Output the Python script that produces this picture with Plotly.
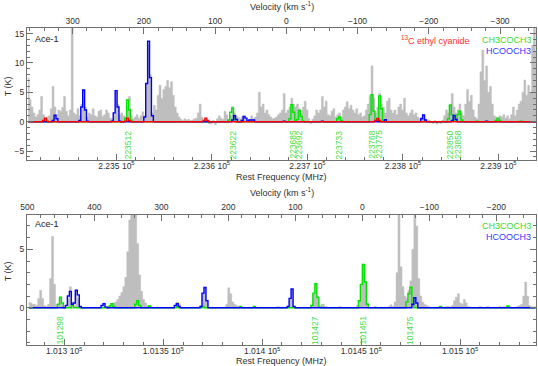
import numpy as np
import plotly.graph_objects as go

C_KMS = 299792.458

# ---------------- upper band (~223.7 GHz) ----------------
top_f0 = 223407.6        # MHz, first channel
top_df = 2.0             # MHz, channel width
top_vref = 223677.8      # MHz, rest frequency at v = 0
top_xrange = [223406.3, 223939.3]
top_yrange = [-6.44, 15.96]

# observed spectrum, T (K) per channel
top_obs = [
    7.5, 3.8, 2.5, 1.5, 0.8, 1.2, 2.0, 4.3, 1.2, 0.6,
    0.8, 1.0, 2.2, 6.0, 2.5, 1.2, 2.0, 1.8, 2.4, 4.3,
    1.8, 1.0, 2.0, 20.0, 1.5, 1.2, 2.2, 1.0, 3.0, 5.3,
    2.5, 0.8, 1.5, 1.2, 2.2, 1.0, 0.8, 1.8, 2.0, 0.9,
    1.2, 2.0, 1.5, 0.6, 0.5, 1.5, 5.2, 3.0, 1.2, 1.5,
    1.0, 0.8, 2.5, 4.3, 1.0, 0.5, 0.8, 1.2, 0.6, 1.0,
    1.7, 1.0, 6.5, 13.2, 8.0, 1.5, 2.8, 2.0, 4.5, 6.2,
    4.0, 5.5, 6.0, 7.0, 5.8, 6.8, 4.5, 2.5, 1.5, 0.8,
    0.4, 0.2, 0.5, 0.3, 0.4, 0.2, 0.3, 0.5, 0.6, 1.5,
    3.0, 0.8, 0.4, 0.6, 0.2, -0.4, -0.3, 0.2, -0.5, 0.5,
    1.0, 0.6, 0.4, 1.8, 1.2, 0.3, 1.0, 2.6, 1.5, 1.0,
    0.7, 0.5, 0.8, 1.0, 0.5, 0.3, 0.4, 1.0, 0.5, 0.8,
    1.5, 5.0, 2.5, 3.0, 1.5, 2.0, 1.2, 0.8, 0.5, 0.6,
    0.8, 1.2, 1.5, 2.0, 4.8, 1.5, 2.0, 2.5, 4.0, 3.0,
    2.5, 3.0, 2.2, 1.5, 2.5, 3.5, 2.0, 0.5, -0.3, 0.4,
    1.0, 2.0, 1.5, 2.0, 4.3, 2.5, 3.5, 1.2, 1.0, 1.8,
    2.2, 0.8, 1.2, 1.5, 0.8, 2.0, 2.5, 3.4, 2.2, 2.8,
    2.0, 1.5, 2.2, 1.2, 1.5, 0.8, 1.0, 2.0, 3.0, 4.5,
    9.5, 4.0, 1.5, 2.5, 4.8, 3.0, 2.5, 1.5, 3.5, 4.0,
    2.0, 1.5, 2.0, 1.2, 2.5, 3.0, 2.0, 4.0, 1.5, 1.0,
    1.5, 2.0, 1.2, 1.5, 0.8, 0.5, 0.8, 1.2, 0.4, 0.2,
    0.3, 0.1, -0.3, 0.2, -0.4, 0.1, -0.3, 0.3, 1.0, 2.0,
    1.5, 3.0, 4.8, 2.5, 1.5, 2.0, 3.0, 1.5, 1.0, 3.0,
    5.5, 3.5, 4.5, 2.0, 0.8, 0.5, 3.0, 8.5, 12.2, 7.0,
    9.5, 5.0, 6.0, 3.0, 1.0, 0.8, 0.5, 1.0, 0.8, 1.2,
    0.6, 1.0, 0.5, 1.2, 2.5, 1.0, 2.0, 3.0, 3.5, 5.0,
    7.1, 4.5, 6.2, 5.0, 13.0, 18.0, 12.0,
]

# model spectra: {first channel: [T, T, ...]}, zero elsewhere
top_ch3coch3 = {
    51: [0.6, 3.7, 2.0, 0.2], 105: [0.3, 1.6, 2.3, 0.5],
    137: [0.5, 2.9, 1.6, 0.1], 141: [0.4, 1.9, 0.9, 0.1],
    162: [0.5, 0.8, 0.2], 179: [1.2, 4.6, 1.8, 0.1],
    183: [0.3, 4.4, 2.2, 0.2], 220: [0.5, 2.8, 1.2, 0.1],
    224: [0.2, 1.2, 1.8, 0.3], 235: [0.1], 245: [0.2, 0.6, 0.2],
    258: [0.1],
}
top_hcooch3 = {
    13: [0.2, 1.1, 0.5], 27: [0.2, 2.5, 5.4, 2.0, 0.1],
    44: [0.1, 1.5, 5.3, 2.5, 0.1], 61: [0.8, 6.5, 13.7, 7.5, 1.0],
    107: [0.3, 1.0, 0.4], 112: [0.2, 0.9, 0.6, 0.1],
    116: [0.3, 0.3, 0.3], 134: [0.1], 154: [0.1], 182: [0.15],
    187: [0.35], 206: [0.5, 1.15, 0.3], 222: [0.2, 1.05, 0.4],
    240: [0.1],
}
top_c13_etcn = {
    8: [0.2, 0.6, 0.1], 51: [0.1, 0.6, 0.2], 92: [0.2, 0.6, 0.2],
    182: [0.2, 0.55, 0.2],
}
top_line_ids = [223512, 223622, 223685, 223692, 223733,
                223768, 223775, 223850, 223858]
top_freq_ticks = [223500, 223600, 223700, 223800, 223900]
top_freq_text = ["2.235 10<sup>5</sup>", "2.236 10<sup>5</sup>",
                 "2.237 10<sup>5</sup>", "2.238 10<sup>5</sup>",
                 "2.239 10<sup>5</sup>"]

# ---------------- lower band (~101.4 GHz) ----------------
bot_f0 = 101282.1
bot_df = 1.0
bot_vref = 101450.6
bot_xrange = [101281.2, 101538.3]
bot_yrange = [-3.19, 7.98]

bot_obs = [
    0.5, 0.4, 0.3, 0.3, 0.2, 0.8, 1.5, 0.8, 0.2, 0.1,
    0.3, 2.5, 6.1, 2.0, 0.3, 0.2, 0.8, 0.3, 0.1, 0.1,
    0.8, 1.8, 0.5, 0.2, 1.5, 0.8, 0.1, 0.05, 0.0, 0.05,
    0.0, 0.05, 0.0, 0.05, 0.0, 0.05, 0.0, 0.2, 0.4, 0.1,
    0.1, 0.2, 0.3, 0.4, 0.5, 0.7, 1.0, 1.3, 1.8, 2.6,
    4.8, 7.5, 10.5, 12.0, 9.5, 5.5, 2.8, 1.4, 0.7, 0.4,
    0.2, 0.1, 0.05, 0.0, 0.05, 0.0, 0.05, 0.0, 0.05, 0.0,
    0.05, 0.0, 0.05, 0.0, 0.2, 0.5, 0.3, 0.05, 0.0, 0.05,
    0.0, 0.05, 0.0, 0.05, 0.0, 0.05, 0.0, 0.2, 1.25, 1.7,
    0.5, 0.05, 0.0, 0.05, 0.0, 0.05, 0.0, 0.05, 0.0, 0.05,
    0.3, 1.7, 1.2, 0.5, 0.3, 0.2, 0.1, 0.05, 0.0, 0.05,
    0.0, 0.05, 0.0, 0.05, 0.1, 0.05, 0.0, 0.05, 0.0, 0.05,
    0.0, 0.05, 0.0, 0.05, 0.0, 0.05, 0.1, 0.05, 0.0, 0.05,
    0.0, 0.1, 0.8, 1.6, 0.1, 0.05, 0.0, 0.05, 0.0, 0.05,
    0.0, 0.05, 0.0, 0.2, 1.2, 2.0, 0.9, 0.1, 0.3, 0.3,
    0.1, 0.05, 0.0, 0.05, 0.0, 0.05, 0.0, 0.1, 0.05, 0.0,
    0.05, 0.0, 0.05, 0.0, 0.05, 0.0, 0.2, 0.6, 2.0, 3.7,
    2.2, 0.4, 0.05, 0.0, 0.05, 0.1, 0.05, 0.0, 0.05, 0.0,
    0.05, 0.0, 0.1, 0.25, 0.1, 0.5, 3.0, 12.0, 3.5, 1.8,
    1.0, 0.8, 1.5, 2.3, 5.0, 12.0, 7.0, 2.5, 1.0, 0.5,
    0.3, 0.2, 0.1, 0.05, 0.0, 0.05, 0.0, 0.05, 0.0, 0.05,
    0.0, 0.1, 0.1, 0.05, 0.2, 0.6, 0.9, 1.2, 0.4, 0.3,
    0.7, 0.4, 0.1, 0.05, 0.0, 0.05, 0.0, 0.05, 0.1, 0.05,
    0.0, 0.05, 0.1, 0.05, 0.0, 0.05, 0.0, 0.05, 0.1, 0.05,
    0.1, 0.05, 0.0, 0.15, 0.05, 0.0, 0.05, 0.1, 0.2, 0.3,
    1.0, 2.2, 1.0, 0.2, 0.1, 0.05, 0.1,
]
bot_ch3coch3 = {
    15: [0.3, 0.9, 0.4], 22: [0.2], 41: [0.15, 0.35, 0.1],
    54: [0.3, 0.6, 0.2], 61: [0.15], 75: [0.1], 88: [0.1],
    107: [0.1], 114: [0.12], 143: [0.2, 1.25, 2.05, 0.9, 0.05],
    167: [0.6, 2.0, 3.7, 2.2, 0.3], 191: [0.5, 1.2, 1.75, 0.3],
    208: [0.1], 242: [0.15],
}
bot_hcooch3 = {
    19: [0.2, 1.0, 1.4, 0.3], 23: [0.4, 1.5, 1.1, 0.1],
    37: [0.2, 0.35, 0.05], 74: [0.2, 0.35, 0.1],
    87: [0.1, 1.25, 1.73, 0.6], 131: [0.1, 0.8, 1.6, 0.1],
    194: [0.3, 0.85, 0.4],
}
bot_line_ids = [101298, 101427, 101451, 101475]
bot_freq_ticks = [101300, 101350, 101400, 101450, 101500]
bot_freq_text = ["1.013 10<sup>5</sup>", "1.0135 10<sup>5</sup>",
                 "1.014 10<sup>5</sup>", "1.0145 10<sup>5</sup>",
                 "1.015 10<sup>5</sup>"]

GRAY = "#bebebe"
GREEN = "#00e400"
BLUE = "#0000ff"
RED = "#ff0000"
FRAME = "#707070"
TXT = "#303030"
FONT = "Liberation Sans, Arial, sans-serif"

W, H = 538, 366
L, R, T, B = 27, 2, 28, 21


def xp(px):
    return (px - L) / (W - L - R)


def yp(py):
    return (H - B - py) / (H - T - B)


def model_array(segments, n):
    arr = np.zeros(n)
    for start, vals in segments.items():
        arr[start:start + len(vals)] = vals
    return arr


def to_vel(f, fref):
    return C_KMS * (fref - f) / fref


panels = [
    dict(f0=top_f0, df=top_df, obs=top_obs, vref=top_vref, xr=top_xrange,
         yr=top_yrange, dom=[yp(159.5), 1.0], fx="x", vx="x2", ya="y",
         models=[(top_ch3coch3, GREEN), (top_hcooch3, BLUE), (top_c13_etcn, RED)],
         ids=top_line_ids, id_y=-3.87, fticks=top_freq_ticks, ftext=top_freq_text,
         fminor=20, vminor=20),
    dict(f0=bot_f0, df=bot_df, obs=bot_obs, vref=bot_vref, xr=bot_xrange,
         yr=bot_yrange, dom=[0.0, yp(214.5)], fx="x3", vx="x4", ya="y2",
         models=[(bot_ch3coch3, GREEN), (bot_hcooch3, BLUE)],
         ids=bot_line_ids, id_y=-1.93, fticks=bot_freq_ticks, ftext=bot_freq_text,
         fminor=10, vminor=20),
]

fig = go.Figure()
axis_base = dict(showline=True, linecolor=FRAME, linewidth=1, ticks="inside",
                 tickcolor=FRAME, ticklen=6, tickwidth=1, showgrid=False,
                 zeroline=False, tickfont=dict(family=FONT, size=8.5, color=TXT))
annotations = []

for p in panels:
    n = len(p["obs"])
    freq = p["f0"] + p["df"] * np.arange(n)
    fig.add_trace(go.Scatter(
        x=freq, y=p["obs"], mode="lines", fill="tozeroy", fillcolor=GRAY,
        line=dict(shape="hvh", width=0.5, color=GRAY),
        xaxis=p["fx"], yaxis=p["ya"], showlegend=False, hoverinfo="skip"))
    for segs, color in p["models"]:
        fig.add_trace(go.Scatter(
            x=freq, y=model_array(segs, n), mode="lines",
            line=dict(shape="hvh", width=1.4, color=color),
            xaxis=p["fx"], yaxis=p["ya"], showlegend=False, hoverinfo="skip"))
    # keeps the velocity axis alive
    fig.add_trace(go.Scatter(x=[], y=[], xaxis=p["vx"], yaxis=p["ya"],
                             showlegend=False, hoverinfo="skip"))

    fkey = "xaxis" if p["fx"] == "x" else "xaxis" + p["fx"][1:]
    vkey = "xaxis" + p["vx"][1:]
    ykey = "yaxis" if p["ya"] == "y" else "yaxis" + p["ya"][1:]
    fig.layout[fkey] = dict(
        axis_base, anchor=p["ya"], domain=[0, 1], range=p["xr"],
        tickmode="array", tickvals=p["fticks"], ticktext=p["ftext"],
        ticklabelstandoff=-2,
        minor=dict(tickmode="linear", tick0=p["fticks"][0], dtick=p["fminor"],
                   ticks="inside", ticklen=3, tickcolor=FRAME))
    fig.layout[vkey] = dict(
        axis_base, anchor=p["ya"], overlaying=p["fx"], side="top",
        range=[to_vel(p["xr"][0], p["vref"]), to_vel(p["xr"][1], p["vref"])],
        tick0=0, dtick=100,
        minor=dict(tick0=0, dtick=p["vminor"], ticks="inside", ticklen=3,
                   tickcolor=FRAME))
    fig.layout[ykey] = dict(
        axis_base, anchor=p["fx"], domain=p["dom"], range=p["yr"],
        tick0=0, dtick=5, mirror="ticks",
        minor=dict(tick0=0, dtick=1, ticks="inside", ticklen=3,
                   tickcolor=FRAME))

    for f in p["ids"]:
        annotations.append(dict(
            x=f, y=p["id_y"], xref=p["fx"], yref=p["ya"], text=str(f),
            textangle=-90, showarrow=False,
            font=dict(family=FONT, size=8.5, color="#44dd44")))

# panel texts (pixel positions converted to paper)
texts = [
    ("Velocity (km s<sup>-1</sup>)", 281.5, 5.5, "center", 0, TXT),
    ("Velocity (km s<sup>-1</sup>)", 281.5, 191.5, "center", 0, TXT),
    ("Rest Frequency (MHz)", 281.5, 177.5, "center", 0, TXT),
    ("Rest Frequency (MHz)", 281.5, 361.3, "center", 0, TXT),
    ("T (K)", 8.3, 86, "center", -90, TXT),
    ("T (K)", 8.3, 271, "center", -90, TXT),
    ("Ace-1", 33, 38.5, "left", 0, "#202020"),
    ("Ace-1", 33, 224.5, "left", 0, "#202020"),
    ("<sup>13</sup>C ethyl cyanide", 435, 40.5, "center", 0, "#ff3030"),
    ("CH3COCH3", 507, 40, "center", 0, "#33dd33"),
    ("HCOOCH3", 508, 51, "center", 0, "#3535ff"),
    ("CH3COCH3", 507, 225.5, "center", 0, "#33dd33"),
    ("HCOOCH3", 508, 237, "center", 0, "#3535ff"),
]
for text, px, py, anchor, angle, color in texts:
    annotations.append(dict(
        x=xp(px), y=yp(py), xref="paper", yref="paper", text=text,
        xanchor=anchor, yanchor="middle", textangle=angle, showarrow=False,
        font=dict(family=FONT, size=9, color=color)))

fig.update_layout(
    width=W, height=H, margin=dict(l=L, r=R, t=T, b=B),
    paper_bgcolor="white", plot_bgcolor="white",
    font=dict(family=FONT, size=9, color=TXT),
    annotations=annotations, showlegend=False,
)

# page body margin would push the 538x366 figure out of the window
fig.write_html("out.html", config={"displayModeBar": False},
               post_script="document.body.style.margin='0';")
